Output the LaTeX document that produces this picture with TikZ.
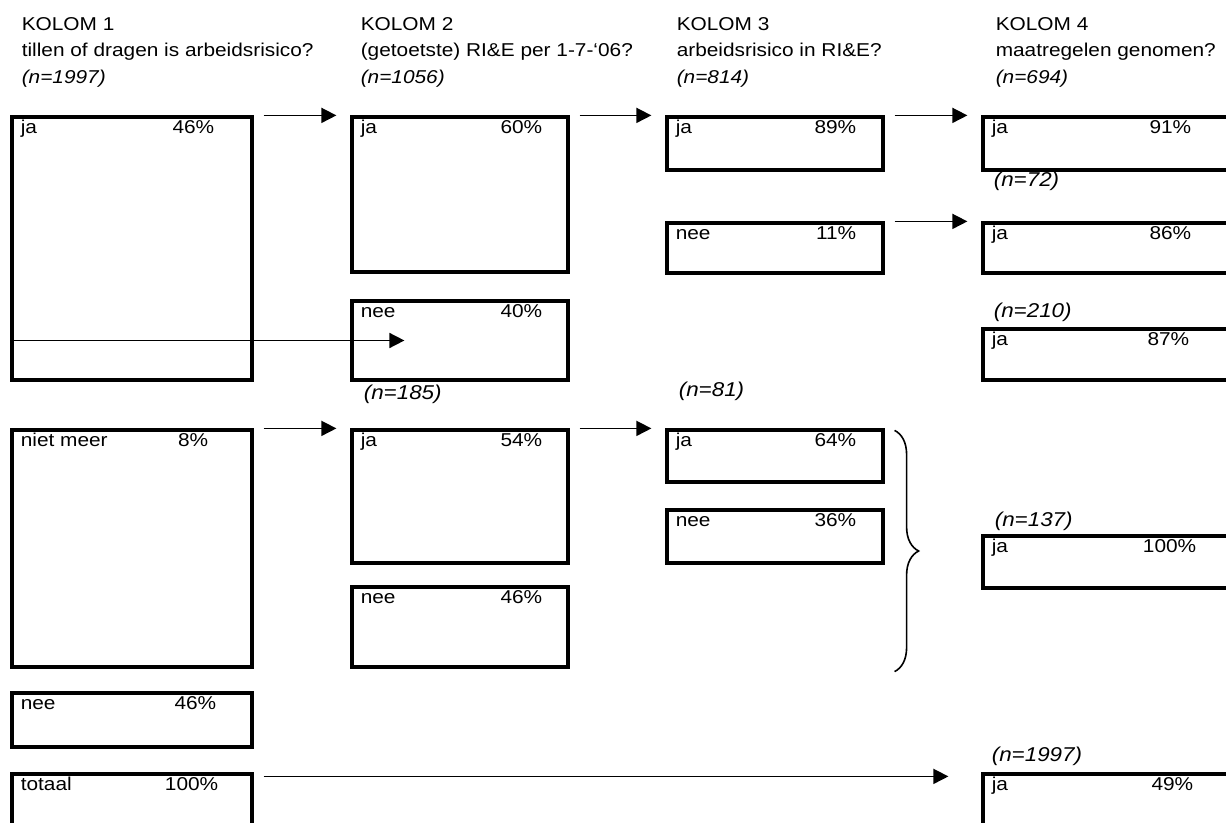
\documentclass[tikz,border=0pt]{standalone}
\usepackage{fontspec}
\setmainfont[FakeStretch=1.12]{Liberation Sans}
\usepackage{tikz}
\usetikzlibrary{arrows.meta,calc,fit,decorations.pathreplacing}
\tikzset{
    vak/.style={draw, line width=1.6pt, rectangle, inner sep=0pt},
    lo/.style={anchor=north west, inner sep=0pt, text height=9pt, xshift=5pt},
    ro/.style={anchor=north east, inner sep=0pt, text height=9pt, xshift=-#1*0.5pt},
    kop/.style={anchor=north west, align=left, inner sep=0pt},
    nlab/.style={anchor=base west, inner sep=0pt, font=\itshape},
    pijl/.style={-{Triangle[length=7.5pt,width=7.5pt]}, line width=0.8pt,
        shorten <=5pt, shorten >=7pt},
    accolade/.style={decorate, decoration={brace, amplitude=12pt}, line width=0.8pt}
}

\begin{document}
\begin{tikzpicture}[x=0.5pt, y=-0.5pt, font=\fontsize{9.3pt}{13.25pt}\selectfont]
    \useasboundingbox (0,0) rectangle (1226,823);
    \clip (0,0) rectangle (1226,823);

    \node[vak, fit={(12,117) (252,380)}, label={[lo]north west:ja}, label={[ro=39]north east:46\%}] (k1ja) {};
    \node[vak, fit={(352,117) (568,272)}, label={[lo]north west:ja}, label={[ro=27]north east:60\%}] (k2ja) {};
    \node[vak, fit={(352,301) (568,380)}, label={[lo]north west:nee}, label={[ro=27]north east:40\%}] (k2nee) {};
    \node[vak, fit={(667,117) (883,170)}, label={[lo]north west:ja}, label={[ro=28]north east:89\%}] (k3ja) {};
    \node[vak, fit={(667,223) (883,273)}, label={[lo]north west:nee}, label={[ro=28]north east:11\%}] (k3nee) {};
    \node[vak, fit={(983,117) (1260,170)}, label={[lo]north west:ja}, label={[ro=70]north east:91\%}] (k4ja) {};
    \node[vak, fit={(983,223) (1260,273)}, label={[lo]north west:ja}, label={[ro=70]north east:86\%}] (k4jb) {};
    \node[vak, fit={(983,329) (1260,380)}, label={[lo]north west:ja}, label={[ro=72]north east:87\%}] (k4jc) {};

    \node[vak, fit={(12,430) (252,667)}, label={[lo]north west:niet meer}, label={[ro=45]north east:8\%}] (k1niet) {};
    \node[vak, fit={(352,430) (568,563)}, label={[lo]north west:ja}, label={[ro=27]north east:54\%}] (k2jb) {};
    \node[vak, fit={(352,587) (568,667)}, label={[lo]north west:nee}, label={[ro=27]north east:46\%}] (k2neeb) {};
    \node[vak, fit={(667,430) (883,482)}, label={[lo]north west:ja}, label={[ro=28]north east:64\%}] (k3jb) {};
    \node[vak, fit={(667,510) (883,563)}, label={[lo]north west:nee}, label={[ro=28]north east:36\%}] (k3neeb) {};
    \node[vak, fit={(983,536) (1260,588)}, label={[lo]north west:ja}, label={[ro=65]north east:100\%}] (k4jd) {};

    \node[vak, fit={(12,693) (252,747)}, label={[lo]north west:nee}, label={[ro=37]north east:46\%}] (k1nee) {};
    \node[vak, fit={(12,774) (252,830)}, label={[lo]north west:totaal}, label={[ro=35]north east:100\%}] (k1tot) {};
    \node[vak, fit={(983,774) (1260,830)}, label={[lo]north west:ja}, label={[ro=68]north east:49\%}] (k4tot) {};

    \node[kop] (kop1) at ($(k1ja.north west)+(11,-98.5)$) {KOLOM 1\\tillen of dragen is arbeidsrisico?\\\textit{(n=1997)}};
    \node[kop] (kop2) at ($(k2ja.north west)+(10,-98.5)$) {KOLOM 2\\(getoetste) RI\&E per 1-7-‘06?\\\textit{(n=1056)}};
    \node[kop] (kop3) at ($(k3ja.north west)+(11,-98.5)$) {KOLOM 3\\arbeidsrisico in RI\&E?\\\textit{(n=814)}};
    \node[kop] (kop4) at ($(k4ja.north west)+(14,-98.5)$) {KOLOM 4\\maatregelen genomen?\\\textit{(n=694)}};

    \node[nlab] (n72) at ($(k4ja.south west)+(12,15)$) {(n=72)};
    \node[nlab] (n210) at ($(k4jc.north west)+(12,-10)$) {(n=210)};
    \node[nlab] (n137) at ($(k4jd.north west)+(13,-8)$) {(n=137)};
    \node[nlab] (n1997) at ($(k4tot.north west)+(10,-11)$) {(n=1997)};
    \node[nlab] (n185) at ($(k2nee.south west)+(13,18)$) {(n=185)};
    \node[nlab] (n81) at ($(k3jb.north west)+(13,-32)$) {(n=81)};

    \draw[pijl] (k1ja.north east) -- (k2ja.north west);
    \draw[pijl] (k2ja.north east) -- (k3ja.north west);
    \draw[pijl] (k3ja.north east) -- (k4ja.north west);
    \draw[pijl] (k3nee.north east) -- (k4jb.north west);
    \draw[pijl, shorten <=0pt, shorten >=0pt] (k1ja.west |- k2nee.west) -- ([xshift=27pt]k2nee.west);
    \draw[pijl] (k1niet.north east) -- (k2jb.north west);
    \draw[pijl] (k2jb.north east) -- (k3jb.north west);
    \draw[pijl, shorten >=16.5pt] ([yshift=-2pt]k1tot.north east) -- ([yshift=-2pt]k4tot.north west);
    \draw[accolade] ($(k3jb.north east)+(10,2)$) -- ($(k3jb.north east |- k2neeb.south)+(10,3)$);
\end{tikzpicture}
\end{document}
